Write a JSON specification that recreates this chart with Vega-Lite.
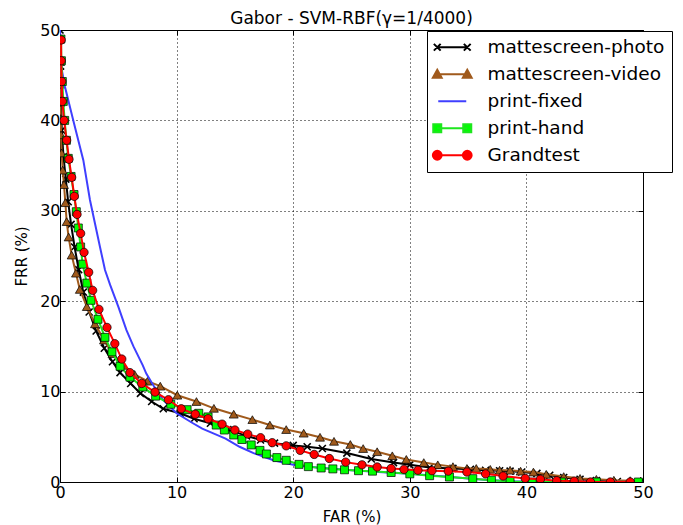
{
  "$schema": "https://vega.github.io/schema/vega-lite/v6.json",
  "width": 583,
  "height": 452,
  "autosize": {"type": "none"},
  "padding": {"left": 60, "top": 30, "right": 40, "bottom": 43},
  "background": "white",
  "title": {"text": "Gabor - SVM-RBF(γ=1/4000)", "font": "DejaVu Sans", "fontSize": 17, "fontWeight": "normal", "color": "black", "offset": -6, "anchor": "middle", "frame": "group"},
  "config": {
    "view": {"stroke": "black", "strokeWidth": 1},
    "axis": {
      "domain": false, "labelFlush": false,
      "labelFont": "DejaVu Sans", "labelFontSize": 16, "labelColor": "black",
      "titleFont": "DejaVu Sans", "titleFontSize": 15, "titleFontWeight": "normal", "titleColor": "black",
      "tickColor": "black", "tickSize": -5, "tickWidth": 1,
      "gridColor": "black", "gridDash": [1, 3], "gridOpacity": 1, "gridWidth": 1
    }
  },
  "datasets": {
    "photo": [
      {"x":0,"y":50},{"x":0.05,"y":46},{"x":0.1,"y":42},{"x":0.15,"y":38.9},{"x":0.3,"y":36},{"x":0.5,"y":33.5},{"x":0.7,"y":31},{"x":0.95,"y":28.5},{"x":1.25,"y":26},{"x":1.6,"y":23.5},{"x":2.0,"y":21},{"x":2.5,"y":18.8},{"x":3.1,"y":16.7},{"x":3.8,"y":14.8},{"x":4.5,"y":13.3},{"x":5.15,"y":12.1},{"x":6.06,"y":10.9},{"x":6.9,"y":9.8},{"x":7.86,"y":8.9},{"x":8.86,"y":8.1},{"x":10.3,"y":7.6},{"x":11.5,"y":7.0},{"x":12.9,"y":6.5},{"x":14.4,"y":5.8},{"x":16.0,"y":5.1},{"x":17.2,"y":4.65},{"x":18.4,"y":4.3},{"x":20.0,"y":4.05},{"x":21.2,"y":3.9},{"x":22.5,"y":3.7},{"x":24.6,"y":3.2},{"x":26.7,"y":2.55},{"x":28.6,"y":2.15},{"x":30.0,"y":1.9},{"x":31.7,"y":1.6},{"x":33.7,"y":1.5},{"x":35.2,"y":1.4},{"x":36.5,"y":1.3},{"x":37.7,"y":1.25},{"x":38.6,"y":1.2},{"x":39.6,"y":1.1},{"x":40.9,"y":0.95},{"x":42.0,"y":0.75},{"x":43.2,"y":0.5},{"x":44.6,"y":0.3},{"x":46.0,"y":0.15},{"x":47.8,"y":0.05},{"x":49.8,"y":0}
    ],
    "video": [
      {"x":0,"y":49},{"x":0.01,"y":46.5},{"x":0.02,"y":44},{"x":0.04,"y":42},{"x":0.06,"y":40.2},{"x":0.09,"y":38.4},{"x":0.14,"y":36.4},{"x":0.23,"y":34.5},{"x":0.34,"y":32.9},{"x":0.46,"y":30.9},{"x":0.57,"y":28.8},{"x":0.74,"y":27.1},{"x":1.0,"y":25.1},{"x":1.37,"y":23.1},{"x":1.7,"y":21.3},{"x":2.3,"y":19.4},{"x":3.0,"y":17.5},{"x":3.77,"y":15.7},{"x":4.5,"y":14.2},{"x":5.4,"y":12.9},{"x":6.4,"y":11.9},{"x":7.5,"y":11.15},{"x":8.6,"y":10.6},{"x":10.06,"y":9.6},{"x":11.7,"y":8.9},{"x":13.2,"y":8.15},{"x":14.9,"y":7.5},{"x":16.5,"y":6.9},{"x":18.0,"y":6.3},{"x":19.4,"y":5.8},{"x":20.9,"y":5.4},{"x":22.3,"y":4.95},{"x":23.5,"y":4.5},{"x":24.9,"y":4.15},{"x":26.0,"y":3.7},{"x":27.2,"y":3.35},{"x":28.5,"y":2.9},{"x":29.7,"y":2.5},{"x":31.2,"y":2.15},{"x":32.4,"y":1.9},{"x":33.7,"y":1.7},{"x":34.9,"y":1.5},{"x":35.7,"y":1.5},{"x":36.9,"y":1.4},{"x":37.7,"y":1.3},{"x":38.6,"y":1.3},{"x":39.5,"y":1.2},{"x":40.6,"y":1.1},{"x":41.7,"y":0.85},{"x":43.2,"y":0.6},{"x":44.6,"y":0.4},{"x":46.0,"y":0.3},{"x":47.5,"y":0.2},{"x":48.9,"y":0.15},{"x":49.8,"y":0.1}
    ],
    "fixed": [
      {"x":0,"y":50},{"x":0.05,"y":47.5},{"x":0.15,"y":45.6},{"x":0.43,"y":43.7},{"x":1.14,"y":40.0},{"x":2.0,"y":35.6},{"x":2.57,"y":31.2},{"x":3.0,"y":28.6},{"x":3.43,"y":26.0},{"x":3.86,"y":23.45},{"x":4.3,"y":21.8},{"x":5.0,"y":19.4},{"x":5.7,"y":16.8},{"x":6.3,"y":15.0},{"x":7.1,"y":12.9},{"x":7.4,"y":12.0},{"x":8.0,"y":10.7},{"x":8.86,"y":9.07},{"x":10.0,"y":7.6},{"x":11.4,"y":6.5},{"x":12.2,"y":5.9},{"x":13.3,"y":5.3},{"x":14.2,"y":4.8},{"x":15.4,"y":3.9},{"x":16.6,"y":3.2},{"x":18.3,"y":2.4},{"x":20.0,"y":1.9},{"x":22.0,"y":1.6},{"x":25.0,"y":1.3},{"x":28.0,"y":1.05},{"x":30.0,"y":0.9},{"x":33.0,"y":0.6},{"x":35.0,"y":0.4},{"x":37.0,"y":0.2},{"x":39.0,"y":0.08},{"x":42.0,"y":0.02},{"x":50.0,"y":0}
    ],
    "hand": [
      {"x":0.08,"y":49},{"x":0.12,"y":46.6},{"x":0.2,"y":44.3},{"x":0.28,"y":42.1},{"x":0.4,"y":40},{"x":0.55,"y":37.8},{"x":0.71,"y":35.8},{"x":0.95,"y":33.8},{"x":1.2,"y":31.8},{"x":1.4,"y":29.9},{"x":1.57,"y":28.1},{"x":1.77,"y":26.0},{"x":1.94,"y":24.1},{"x":2.3,"y":22.0},{"x":2.66,"y":20.1},{"x":3.26,"y":18.0},{"x":3.86,"y":16.0},{"x":4.46,"y":14.4},{"x":5.15,"y":12.8},{"x":6.0,"y":11.6},{"x":7.1,"y":10.5},{"x":8.2,"y":9.5},{"x":9.5,"y":8.6},{"x":10.9,"y":8.0},{"x":11.9,"y":7.6},{"x":12.7,"y":7.2},{"x":13.4,"y":6.3},{"x":14.1,"y":5.75},{"x":14.9,"y":5.2},{"x":15.6,"y":4.7},{"x":16.4,"y":4.1},{"x":17.15,"y":3.5},{"x":17.7,"y":3.1},{"x":18.6,"y":2.7},{"x":19.4,"y":2.4},{"x":20.5,"y":1.95},{"x":21.3,"y":1.7},{"x":22.4,"y":1.55},{"x":23.4,"y":1.45},{"x":24.4,"y":1.35},{"x":25.6,"y":1.25},{"x":26.8,"y":1.2},{"x":28.4,"y":1.05},{"x":30.0,"y":0.9},{"x":31.7,"y":0.7},{"x":33.4,"y":0.55},{"x":35.4,"y":0.37},{"x":37.0,"y":0.2},{"x":38.6,"y":0.05},{"x":40.5,"y":0},{"x":43.0,"y":0},{"x":46.0,"y":0},{"x":49.6,"y":0}
    ],
    "grand": [
      {"x":0.1,"y":48.9},{"x":0.1,"y":46.6},{"x":0.15,"y":44.3},{"x":0.2,"y":42.1},{"x":0.35,"y":40.0},{"x":0.57,"y":37.8},{"x":0.77,"y":35.7},{"x":1.0,"y":33.7},{"x":1.23,"y":31.6},{"x":1.46,"y":29.6},{"x":1.77,"y":27.5},{"x":2.06,"y":25.4},{"x":2.46,"y":23.2},{"x":2.8,"y":21.2},{"x":3.34,"y":19.1},{"x":4.03,"y":17.1},{"x":4.7,"y":15.3},{"x":5.3,"y":13.6},{"x":6.0,"y":12.1},{"x":7.0,"y":10.9},{"x":8.15,"y":9.95},{"x":9.3,"y":9.1},{"x":10.4,"y":8.1},{"x":11.6,"y":7.5},{"x":12.7,"y":7.0},{"x":13.9,"y":6.4},{"x":15.0,"y":5.75},{"x":16.1,"y":5.3},{"x":17.2,"y":4.9},{"x":18.2,"y":4.35},{"x":19.4,"y":4.0},{"x":20.6,"y":3.5},{"x":21.8,"y":3.05},{"x":23.1,"y":2.6},{"x":24.5,"y":2.2},{"x":25.9,"y":1.9},{"x":27.2,"y":1.66},{"x":28.4,"y":1.5},{"x":29.5,"y":1.4},{"x":30.7,"y":1.3},{"x":31.9,"y":1.25},{"x":33.3,"y":1.2},{"x":34.9,"y":1.1},{"x":36.5,"y":0.9},{"x":38.0,"y":0.66},{"x":39.9,"y":0.4},{"x":41.2,"y":0.3},{"x":42.6,"y":0.15},{"x":44.1,"y":0.1},{"x":45.5,"y":0},{"x":47.2,"y":0},{"x":48.9,"y":0}
    ]
  },
  "resolve": {"axis": {"x": "independent", "y": "independent"}},
  "layer": [
    {
      "data": {"name": "photo"},
      "mark": {"type": "line", "strokeWidth": 2, "clip": true},
      "encoding": {
        "x": {"field": "x", "type": "quantitative", "scale": {"domain": [0, 50], "nice": false}, "axis": {"orient": "bottom", "title": "FAR (%)", "values": [0,10,20,30,40,50], "grid": true, "labelPadding": 7, "titlePadding": 9}},
        "y": {"field": "y", "type": "quantitative", "scale": {"domain": [0, 50], "nice": false}, "axis": {"orient": "left", "title": "FRR (%)", "values": [0,10,20,30,40,50], "grid": true, "labelPadding": 5, "titlePadding": 10}},
        "order": {"value": null},
        "color": {
          "datum": "mattescreen-photo", "type": "nominal",
          "scale": {"domain": ["mattescreen-photo", "mattescreen-video", "print-fixed", "print-hand", "Grandtest"], "range": ["#000000", "#a05a1c", "#3f3fff", "#1ee61e", "#ff0000"]},
          "legend": {
            "orient": "none", "legendX": 367, "legendY": 1, "title": null,
            "labelFont": "DejaVu Sans", "labelFontSize": 18.5, "labelColor": "black", "labelLimit": 400,
            "strokeColor": "black", "fillColor": "white", "cornerRadius": 0, "padding": 7, "rowPadding": 8,
            "symbolOffset": 9, "labelOffset": 26, "symbolSize": 64, "symbolStrokeWidth": 2,
            "encode": {"symbols": {"update": {
              "shape": {"signal": "datum.value === 'mattescreen-photo' ? 'M-3.75,0L3.75,0M-4.6,-0.85L-2.9,0.85M-4.6,0.85L-2.9,-0.85M2.9,-0.85L4.6,0.85M2.9,0.85L4.6,-0.85' : datum.value === 'mattescreen-video' ? 'M-3.75,0L3.75,0M-3.75,-1.1L-2.65,0.9L-4.85,0.9ZM3.75,-1.1L4.85,0.9L2.65,0.9Z' : datum.value === 'print-fixed' ? 'M-3.5,0L3.5,0' : datum.value === 'print-hand' ? 'M-3.75,0L3.75,0M-4.75,-1L-2.75,-1L-2.75,1L-4.75,1ZM2.75,-1L4.75,-1L4.75,1L2.75,1Z' : 'M-3.75,0L3.75,0M-2.65,0A1.1,1.1,0,1,1,-4.85,0A1.1,1.1,0,1,1,-2.65,0M4.85,0A1.1,1.1,0,1,1,2.65,0A1.1,1.1,0,1,1,4.85,0'"},
              "fill": {"signal": "datum.value === 'mattescreen-photo' ? '#000000' : datum.value === 'mattescreen-video' ? '#a05a1c' : datum.value === 'print-fixed' ? 'transparent' : datum.value === 'print-hand' ? '#00ff00' : '#ff0000'"},
              "stroke": {"signal": "datum.value === 'mattescreen-photo' ? '#000000' : datum.value === 'mattescreen-video' ? '#a05a1c' : datum.value === 'print-fixed' ? '#3f3fff' : datum.value === 'print-hand' ? '#1ee61e' : '#ff0000'"},
              "strokeWidth": {"value": 2},
              "opacity": {"value": 1}
            }}}
          }
        }
      }
    },
    {
      "data": {"name": "photo"},
      "mark": {"type": "point", "shape": "M-1,-1L1,1M-1,1L1,-1", "filled": false, "stroke": "black", "strokeWidth": 1.6, "size": 49, "opacity": 1, "clip": true},
      "encoding": {
        "x": {"field": "x", "type": "quantitative", "axis": {"orient": "top", "title": null, "labels": false, "grid": false, "values": [0,10,20,30,40,50]}},
        "y": {"field": "y", "type": "quantitative", "axis": {"orient": "right", "title": null, "labels": false, "grid": false, "values": [0,10,20,30,40,50]}}
      }
    },
    {
      "data": {"name": "video"},
      "mark": {"type": "line", "strokeWidth": 2, "clip": true},
      "encoding": {
        "x": {"field": "x", "type": "quantitative", "axis": null},
        "y": {"field": "y", "type": "quantitative", "axis": null},
        "order": {"value": null},
        "color": {"datum": "mattescreen-video", "type": "nominal"}
      }
    },
    {
      "data": {"name": "video"},
      "mark": {"type": "point", "shape": "triangle-up", "filled": true, "fill": "#a05a1c", "stroke": "black", "strokeWidth": 0.7, "size": 80, "opacity": 1, "clip": true},
      "encoding": {
        "x": {"field": "x", "type": "quantitative", "axis": null},
        "y": {"field": "y", "type": "quantitative", "axis": null}
      }
    },
    {
      "data": {"name": "fixed"},
      "mark": {"type": "line", "strokeWidth": 2, "clip": true},
      "encoding": {
        "x": {"field": "x", "type": "quantitative", "axis": null},
        "y": {"field": "y", "type": "quantitative", "axis": null},
        "order": {"value": null},
        "color": {"datum": "print-fixed", "type": "nominal"}
      }
    },
    {
      "data": {"name": "hand"},
      "mark": {"type": "line", "strokeWidth": 2, "clip": true},
      "encoding": {
        "x": {"field": "x", "type": "quantitative", "axis": null},
        "y": {"field": "y", "type": "quantitative", "axis": null},
        "order": {"value": null},
        "color": {"datum": "print-hand", "type": "nominal"}
      }
    },
    {
      "data": {"name": "hand"},
      "mark": {"type": "point", "shape": "square", "filled": true, "fill": "#00ff00", "stroke": "black", "strokeWidth": 0.7, "size": 64, "opacity": 1, "clip": true},
      "encoding": {
        "x": {"field": "x", "type": "quantitative", "axis": null},
        "y": {"field": "y", "type": "quantitative", "axis": null}
      }
    },
    {
      "data": {"name": "grand"},
      "mark": {"type": "line", "strokeWidth": 2, "clip": true},
      "encoding": {
        "x": {"field": "x", "type": "quantitative", "axis": null},
        "y": {"field": "y", "type": "quantitative", "axis": null},
        "order": {"value": null},
        "color": {"datum": "Grandtest", "type": "nominal"}
      }
    },
    {
      "data": {"name": "grand"},
      "mark": {"type": "point", "shape": "circle", "filled": true, "fill": "#ff0000", "stroke": "black", "strokeWidth": 0.7, "size": 70, "opacity": 1, "clip": true},
      "encoding": {
        "x": {"field": "x", "type": "quantitative", "axis": null},
        "y": {"field": "y", "type": "quantitative", "axis": null}
      }
    }
  ]
}
